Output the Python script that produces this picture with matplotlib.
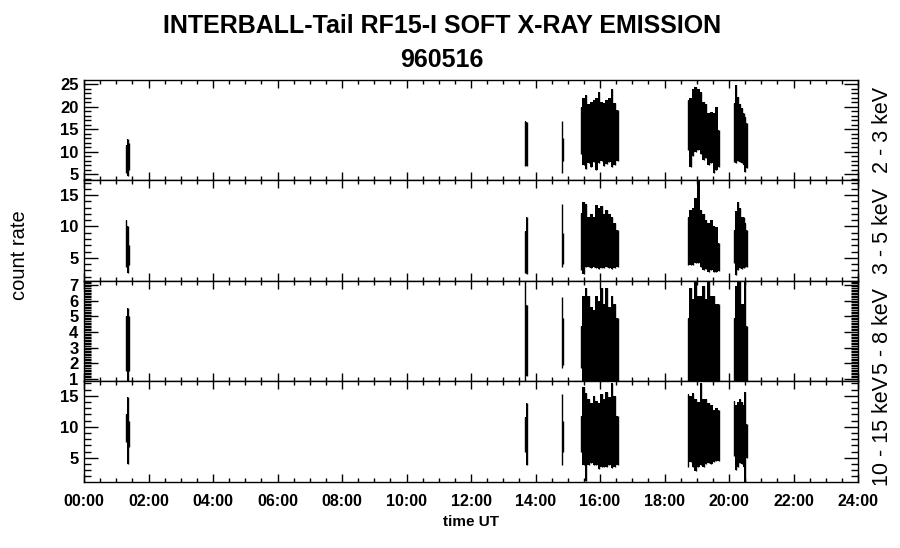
import numpy as np
import matplotlib.pyplot as plt
from matplotlib.ticker import MultipleLocator, FixedLocator

plt.rcParams['font.family'] = ['Liberation Sans', 'DejaVu Sans']

# burst sample times, hours UT
t_bursts = [
    [1.30, 1.35, 1.40],
    [13.68, 13.74],
    [14.82, 14.85],
    [15.41, 15.49, 15.57, 15.65, 15.73, 15.81, 15.89, 15.97, 16.05, 16.13, 16.21, 16.29, 16.37, 16.45, 16.55],
    [18.73, 18.81, 18.89, 18.97, 19.05, 19.13, 19.21, 19.29, 19.37, 19.45, 19.53, 19.61, 19.68],
    [20.15, 20.21, 20.27, 20.33, 20.39, 20.45, 20.51, 20.55],
]

# 2 - 3 keV envelope (max / min count rate)
hi_23 = [
    [11.5, 12.8, 12.0],
    [16.8, 16.5],
    [16.8, 13.0],
    [19.9, 22.0, 22.6, 20.5, 21.0, 21.5, 22.0, 23.3, 21.0, 20.8, 21.5, 22.0, 24.0, 20.8, 19.2],
    [21.4, 22.0, 24.0, 24.4, 24.0, 23.3, 21.0, 20.5, 18.5, 18.8, 18.5, 20.0, 14.8],
    [20.7, 24.8, 22.2, 20.5, 19.7, 18.5, 17.7, 16.3],
]
lo_23 = [
    [5.2, 4.6, 6.0],
    [6.8, 6.9],
    [5.2, 8.0],
    [9.5, 7.0, 6.2, 7.5, 6.5, 7.8, 6.0, 7.5, 8.0, 6.8, 7.2, 7.8, 6.5, 7.0, 8.0],
    [10.3, 6.6, 9.0, 10.0, 10.3, 9.5, 8.1, 8.5, 7.0, 7.5, 5.2, 5.9, 6.6],
    [7.7, 7.5, 8.0, 7.7, 7.5, 7.0, 5.5, 6.3],
]

# 3 - 5 keV
hi_35 = [
    [11.0, 10.0, 7.0],
    [9.3, 11.5],
    [13.6, 9.0],
    [12.1, 13.9, 13.5, 11.5, 12.0, 11.5, 13.4, 13.0, 13.2, 12.0, 12.6, 12.0, 11.5, 10.5, 9.5],
    [11.5, 12.6, 13.0, 14.5, 17.5, 12.6, 12.0, 11.0, 10.5, 11.0, 10.0, 9.9, 7.3],
    [9.4, 12.5, 13.9, 12.9, 11.5, 11.5, 10.5, 9.4],
]
lo_35 = [
    [3.5, 2.6, 3.8],
    [2.6, 2.4],
    [3.6, 4.0],
    [3.0, 2.4, 3.5, 3.6, 3.4, 3.6, 3.3, 3.2, 3.4, 3.4, 3.5, 3.3, 3.2, 3.4, 3.6],
    [3.8, 3.9, 3.8, 4.1, 4.1, 3.5, 3.0, 3.2, 2.8, 3.0, 2.8, 2.8, 2.9],
    [4.1, 2.2, 3.0, 3.4, 3.2, 3.4, 3.5, 3.6],
]

# 5 - 8 keV
hi_58 = [
    [5.0, 5.5, 5.0],
    [7.3, 5.7],
    [6.25, 4.9],
    [4.4, 6.3, 6.8, 6.3, 5.6, 5.4, 6.3, 6.0, 6.8, 5.8, 6.8, 5.6, 6.3, 5.8, 4.9],
    [4.9, 6.8, 6.1, 7.3, 6.3, 6.3, 6.9, 6.1, 7.3, 6.3, 6.3, 5.8, 5.8],
    [4.9, 6.9, 7.3, 7.3, 5.8, 5.8, 7.3, 4.4],
]
lo_58 = [
    [1.5, 0.8, 1.5],
    [0.8, 1.2],
    [1.7, 1.9],
    [1.7, 0.8, 0.8, 0.8, 0.8, 0.8, 0.8, 0.8, 0.8, 0.8, 0.8, 0.8, 0.8, 0.8, 0.8],
    [0.8, 0.8, 0.8, 0.8, 0.8, 0.8, 0.8, 0.8, 0.8, 0.8, 0.8, 0.8, 0.8],
    [0.8, 0.8, 0.8, 0.8, 0.8, 0.8, 0.8, 0.8],
]

# 10 - 15 keV
hi_1015 = [
    [12.0, 14.8, 11.0],
    [11.6, 13.9],
    [15.3, 11.0],
    [11.7, 16.5, 15.5, 14.5, 13.9, 14.9, 14.2, 13.9, 15.3, 14.5, 15.7, 14.8, 17.1, 15.0, 11.7],
    [15.3, 15.0, 15.5, 14.5, 14.0, 17.0, 14.5, 14.5, 13.9, 13.5, 12.8, 13.0, 12.8],
    [14.1, 13.5, 14.0, 14.5, 14.0, 13.5, 15.7, 10.4],
]
lo_1015 = [
    [7.5, 4.0, 6.8],
    [6.0, 3.9],
    [3.9, 6.0],
    [6.0, 3.9, 1.3, 3.9, 4.2, 3.8, 3.9, 3.2, 3.5, 3.5, 3.6, 3.8, 3.3, 3.5, 3.9],
    [3.5, 4.4, 3.6, 2.8, 3.5, 3.8, 3.6, 4.0, 4.2, 4.0, 4.4, 4.5, 4.5],
    [5.3, 3.0, 3.5, 4.2, 4.0, 3.5, 0.7, 5.0],
]

channels = ['2 - 3 keV', '3 - 5 keV', '5 - 8 keV', '10 - 15 keV']
highs = [hi_23, hi_35, hi_58, hi_1015]
lows = [lo_23, lo_35, lo_58, lo_1015]
ylims = [(3.7, 25.9), (1.3, 17.4), (0.87, 7.25), (1.1, 17.4)]
yticks = [[5, 10, 15, 20, 25], [5, 10, 15], [1, 2, 3, 4, 5, 6, 7], [5, 10, 15]]
yminor = [1, 1, 0.1, 1]
xtick_hours = list(range(0, 25, 2))
xticklabels = ['%02d:00' % h for h in xtick_hours]

fig = plt.figure(figsize=(9, 5.48), dpi=100)

# panel boxes in pixels from top: (top, bottom)
rows = [(80, 180), (180, 281), (281, 381), (381, 482)]
left, right = 84, 858
W, H = 900.0, 548.0

axes = []
for i, (top, bot) in enumerate(rows):
    ax = fig.add_axes([left / W, 1 - bot / H, (right - left) / W, (bot - top) / H])
    for t, hi, lo in zip(t_bursts, highs[i], lows[i]):
        ax.fill_between(t, lo, hi, step='mid', color='k', lw=0)
        ax.vlines(t, lo, hi, color='k', lw=1.0)
    ax.set_xlim(0, 24)
    ax.set_ylim(*ylims[i])
    ax.xaxis.set_major_locator(FixedLocator(xtick_hours))
    ax.xaxis.set_minor_locator(MultipleLocator(0.5))
    ax.yaxis.set_major_locator(FixedLocator(yticks[i]))
    ax.yaxis.set_minor_locator(MultipleLocator(yminor[i]))
    ax.tick_params(axis='both', which='both', direction='in', top=True, right=True,
                   width=1, colors='k')
    ax.tick_params(axis='x', which='major', length=6)
    ax.tick_params(axis='x', which='minor', length=3)
    ax.tick_params(axis='y', which='major', length=10, labelsize=12, pad=4)
    ax.tick_params(axis='y', which='minor', length=5)
    for lab in ax.get_yticklabels():
        lab.set_fontweight('bold')
    for s in ax.spines.values():
        s.set_linewidth(1.0)
    if i < 3:
        ax.set_xticklabels([])
    else:
        ax.set_xticklabels(xticklabels, fontsize=11.5, fontweight='bold')
        ax.tick_params(axis='x', which='major', pad=9)
    ax.text(1.032, 0.5, channels[i], transform=ax.transAxes, rotation=90,
            ha='center', va='center', fontsize=15.5)
    axes.append(ax)

axes[-1].set_xlabel('time UT', fontsize=11, fontweight='bold', labelpad=4)

fig.text(0.491, 1 - 26 / H, 'INTERBALL-Tail RF15-I SOFT X-RAY EMISSION',
         ha='center', va='center', fontsize=18, fontweight='bold')
fig.text(0.491, 1 - 60 / H, '960516', ha='center', va='center',
         fontsize=18, fontweight='bold')
fig.text(20 / W, 1 - 255 / H, 'count rate', rotation=90, ha='center',
         va='center', fontsize=14.5)

fig.savefig('out.png', dpi=100)
